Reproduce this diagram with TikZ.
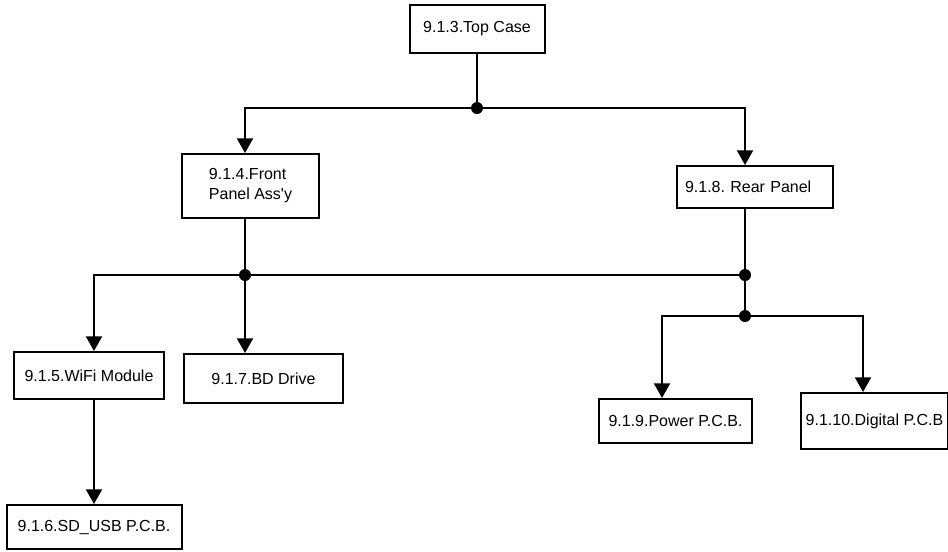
\documentclass[tikz,border=0pt]{standalone}
\usepackage{fontspec}
\setmainfont{Liberation Sans}
\usepackage{tikz}
\usetikzlibrary{arrows.meta}

\begin{document}
\frenchspacing
\begin{tikzpicture}[x=0.75pt,y=-0.75pt,
  part/.style={draw,line width=1.5pt,inner sep=0pt,font=\fontsize{12}{15}\selectfont},
  link/.style={line width=1.5pt},
  feed/.style={line width=1.5pt,-{Triangle[width=12pt,length=11pt]}}]
\useasboundingbox (0,0) rectangle (948,551);
\node[part,minimum width=101.25pt,minimum height=36pt] (top) at (477,29) {9.1.3.Top Case};
\node[part,minimum width=102.75pt,minimum height=48pt,align=left] (front) at (250.5,186) {9.1.4.Front\\Panel Ass\textquotesingle y};
\node[part,minimum width=117pt,minimum height=31.5pt,text width=105pt,align=left] (rear) at (755,187) {9.1.8. Rear Panel};
\node[part,minimum width=112.5pt,minimum height=35.25pt] (wifi) at (89,375.5) {9.1.5.WiFi Module};
\node[part,minimum width=119.25pt,minimum height=36.75pt] (bd) at (263.5,378.5) {9.1.7.BD Drive};
\node[part,minimum width=131.25pt,minimum height=33pt] (sd) at (94,527) {9.1.6.SD\_USB P.C.B.};
\node[part,minimum width=114.75pt,minimum height=33pt] (power) at (675.5,421) {9.1.9.Power P.C.B.};
\node[part,minimum width=110.25pt,minimum height=42pt] (digital) at (874.5,421) {9.1.10.Digital P.C.B};
% junctions
\coordinate (j1) at (477,108);
\coordinate (j2) at (245,275);
\coordinate (j3) at (745,275);
\coordinate (j4) at (745,316);
\coordinate (pw) at (662,316);
\coordinate (dg) at (863,316);
% top level
\draw[link] (top) -- (j1);
\draw[feed] (j1) -| (j2 |- front.north);
\draw[feed] (j1) -| (j3 |- rear.north);
% front panel and rear panel
\draw[link] (j2 |- front.south) -- (j2);
\draw[link] (j3 |- rear.south) -- (j4);
\draw[feed] (j3) -| (sd.north |- wifi.north);
\draw[feed] (j2) -- (j2 |- bd.north);
\draw[feed] (wifi.south -| sd.north) -- (sd.north);
\draw[feed] (j4) -- (pw) -- (pw |- power.north);
\draw[feed] (j4) -- (dg) -- (dg |- digital.north);
\foreach \j in {j1,j2,j3,j4}
  \fill (\j) circle (4.5pt);
\end{tikzpicture}
\end{document}
